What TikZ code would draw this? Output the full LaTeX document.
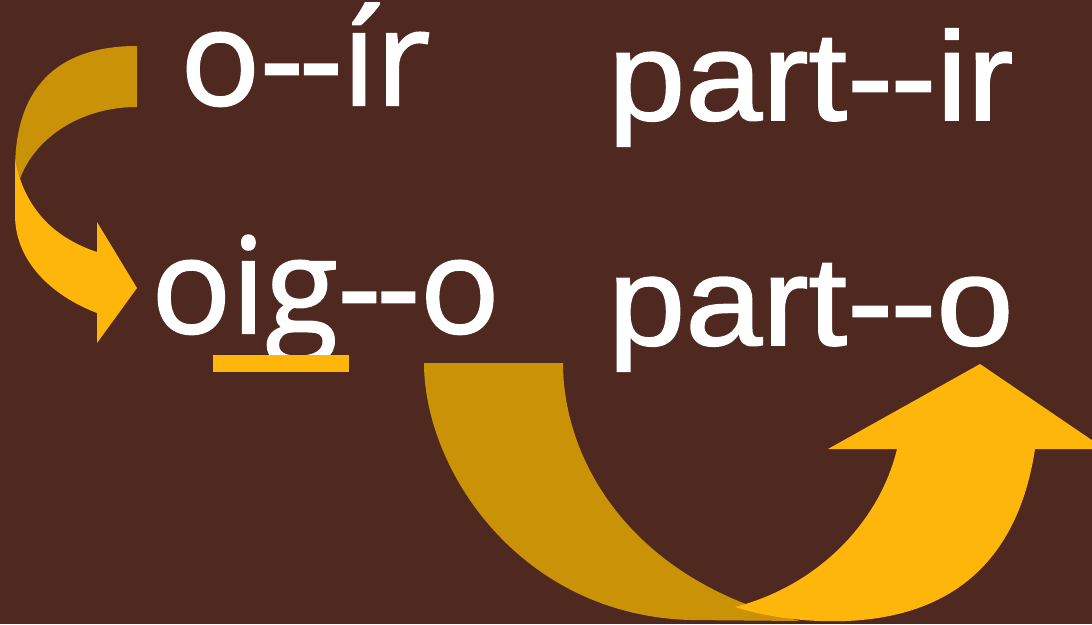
\documentclass[tikz,border=0pt]{standalone}
\usepackage{fontspec}
\newfontfamily\verbfont[FakeBold=1.6]{Open Sans}
\newfontfamily\stemfont[FakeStretch=1.1,FakeBold=1.4]{Liberation Sans}
\definecolor{bgbrown}{HTML}{4F2820}
\definecolor{arrowgold}{HTML}{FFB60B}
\definecolor{arrowshade}{HTML}{C99207}

\begin{document}
\begin{tikzpicture}[
    x=1pt, y=-1pt,
    word/.style={text=white, inner sep=0pt, anchor=base west},
    leftword/.style={word, font=\verbfont\fontsize{133}{133}\selectfont},
    rightword/.style={word, font=\stemfont\fontsize{126}{126}\selectfont},
    back/.style={fill=arrowshade},
    front/.style={fill=arrowgold}
  ]
    \useasboundingbox (0,0) rectangle (1092,624);
    \fill[bgbrown] (0,0) rectangle (1092,624);
    \clip (0,0) rectangle (1092,624);

    % words
    \node[leftword] (oir) at (180,105) {o-\kern-4pt-ír};
    \node[leftword] (oigo) at (151,333) {oig-\kern-4pt-o};
    \node[rightword] (partir) at (608,120) {part-\kern-3pt-ir};
    \node[rightword] (parto) at (608,345) {part-\kern-3pt-o};

    % mark under the stem change
    \fill[front] (213,355) rectangle (349,372);

    % small curved arrow
    \fill[back] (137,46) .. controls (65,46) and (15,80) .. (15,170) -- (15,200)
      .. controls (20,150) and (70,107) .. (137,107) -- cycle;
    \fill[front] (15,160) -- (15,215) .. controls (15,260) and (50,295) .. (97,313)
      -- (97,343) -- (137,288) -- (97,222) -- (97,252)
      .. controls (55,238) and (25,210) .. (15,160) -- cycle;

    % big curved arrow
    \fill[back] (424,363) .. controls (424,470) and (520,615) .. (690,620) -- (800,621)
      .. controls (630,580) and (563,460) .. (563,363) -- cycle;
    \fill[front] (735,607) .. controls (820,585) and (880,520) .. (897,449)
      -- (828,449) -- (980,364) -- (1105,449) -- (1035,449)
      .. controls (1015,580) and (930,625) .. (820,621)
      .. controls (790,620) and (760,615) .. (735,607) -- cycle;
  \end{tikzpicture}
\end{document}
